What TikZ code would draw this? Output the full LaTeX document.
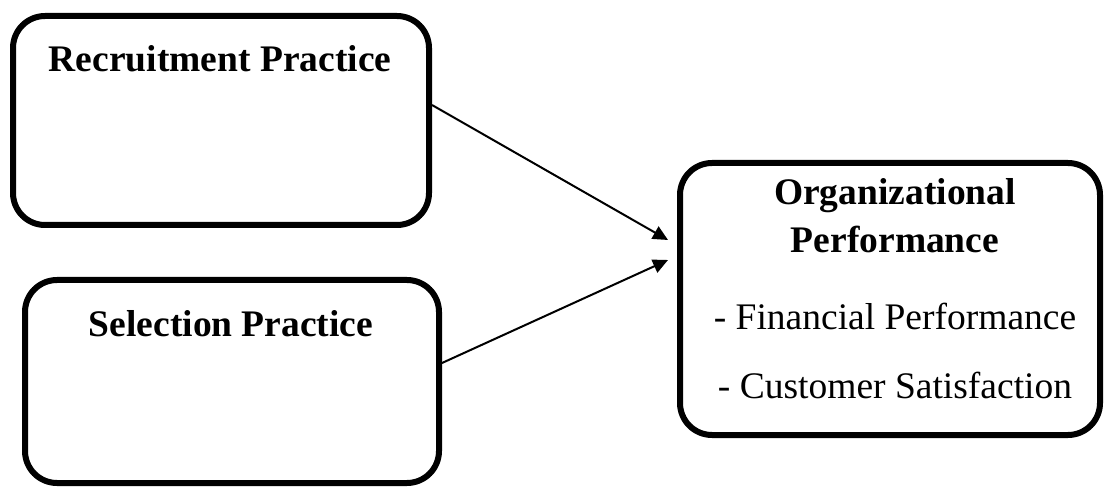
\documentclass[tikz,border=0pt]{standalone}
\usepackage{fontspec}
\setmainfont{Liberation Serif}
\usetikzlibrary{arrows.meta}
\begin{document}
\begin{tikzpicture}[x=1pt,y=-1pt,
  box/.style={draw=black, line width=6pt, rounded corners=32pt, inner sep=0pt},
  lbl/.style={anchor=base, inner sep=0pt, font=\fontsize{37.5}{45}\selectfont},
  arr/.style={line width=2pt, -{Triangle[length=15pt,width=14pt]}}]
\useasboundingbox (0,0) rectangle (1104,489);
\node[box, minimum width=416pt, minimum height=209pt] (b1) at (221,120.5) {};
\node[box, minimum width=414pt, minimum height=203pt] (b2) at (232,381.5) {};
\node[box, minimum width=420pt, minimum height=272pt] (b3) at (890,299) {};
\node[lbl] (t1) at (220,72) {\textbf{Recruitment Practice}};
\node[lbl] (t2) at (231,337) {\textbf{Selection Practice}};
\node[lbl] (t3) at (895,205) {\textbf{Organizational}};
\node[lbl] (t4) at (895,253) {\textbf{Performance}};
\node[lbl] (t5) at (895,330) {- Financial Performance};
\node[lbl] (t6) at (895,398) {- Customer Satisfaction};
\coordinate (e1) at ([xshift=-9pt,yshift=59pt]b3.west);
\coordinate (e2) at ([xshift=-9pt,yshift=39pt]b3.west);
\draw[arr] ([yshift=15.5pt]b1.east) -- (e1);
\draw[arr] ([yshift=18.5pt]b2.east) -- (e2);
\end{tikzpicture}
\end{document}
